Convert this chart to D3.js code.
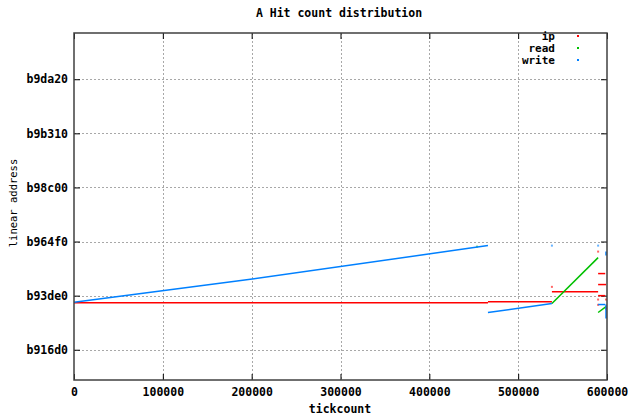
<!DOCTYPE html>
<html>
<head>
<meta charset="utf-8">
<script src="https://cdn.jsdelivr.net/npm/d3@7"></script>
<style>
  body { margin: 0; background: #fff; }
  text { font-family: "DejaVu Sans Mono", monospace; font-weight: bold; font-size: 11.5px; fill: #000; }
</style>
</head>
<body>
<div id="chart"></div>
<script>
const title = "A Hit count distribution";
const xLabel = "tickcount";
const yLabel = "linear address";

const xTicks = [0, 100000, 200000, 300000, 400000, 500000, 600000];
const yTicks = [0xb916d0, 0xb93de0, 0xb964f0, 0xb98c00, 0xb9b310, 0xb9da20];
const xDomain = [0, 600000];
const yDomain = [12124408, 12188546];

const seriesNames = ["ip", "read", "write"];
const seriesColors = ["#ff0000", "#00c000", "#0080ff"];

// runs of consecutive hits: [tickcount, address]
const ipRuns = [
    [[0, 12138671], [466000, 12138671]],
    [[466000, 12138856], [538000, 12138856]],
    [[538000, 12140701], [590000, 12140701]],
    [[590000, 12144079], [598000, 12144079]],
    [[590000, 12142049], [599000, 12142049]],
    [[590000, 12140000], [598000, 12140000]]
];
const ipDots = [
    [538000, 12141624], [590000, 12148140], [590000, 12139280],
    [598900, 12139280], [590000, 12138300], [598900, 12137600]
];

const readRuns = [
    [[538000, 12138542], [590000, 12147032]],
    [[590000, 12136881], [598900, 12137988]]
];
const readDots = [[453700, 12149060]];

const writeRuns = [
    [[0, 12138782], [190000, 12142842], [466000, 12149247]],
    [[466000, 12136881], [538000, 12138542]],
    [[590000, 12138357], [598000, 12138357]],
    [[598900, 12138357], [598900, 12135773]],
    [[598900, 12148140], [598900, 12147400]]
];
const writeDots = [[538000, 12149247], [590000, 12149247]];

const width = 628, height = 416;
const margin = {top: 33, right: 21, bottom: 36, left: 74};

const svg = d3.select("#chart").append("svg")
    .attr("width", width).attr("height", height);

const x = d3.scaleLinear().domain(xDomain).range([margin.left, width - margin.right]);
const y = d3.scaleLinear().domain(yDomain).range([height - margin.bottom, margin.top]);

// grid
const grid = svg.append("g")
    .attr("stroke", "#a8a8a8").attr("stroke-width", 1).attr("stroke-dasharray", "2,2");
grid.selectAll(".gx").data(xTicks.slice(1, -1)).enter().append("line")
    .attr("x1", d => Math.round(x(d)) + 0.5).attr("x2", d => Math.round(x(d)) + 0.5)
    .attr("y1", margin.top).attr("y2", height - margin.bottom);
grid.selectAll(".gy").data(yTicks).enter().append("line")
    .attr("y1", d => Math.round(y(d)) + 0.5).attr("y2", d => Math.round(y(d)) + 0.5)
    .attr("x1", margin.left).attr("x2", width - margin.right);

// axes (ticks inward, mirrored)
const fmtHex = d => d.toString(16);
svg.append("g")
    .attr("transform", `translate(0,${height - margin.bottom})`)
    .call(d3.axisBottom(x).tickValues(xTicks).tickSize(-6).tickPadding(8).tickFormat(d3.format("d")))
    .call(g => g.select(".domain").remove());
svg.append("g")
    .attr("transform", `translate(0,${margin.top})`)
    .call(d3.axisTop(x).tickValues(xTicks).tickSize(-6).tickFormat(""))
    .call(g => g.select(".domain").remove());
svg.append("g")
    .attr("transform", `translate(${margin.left},0)`)
    .call(d3.axisLeft(y).tickValues(yTicks).tickSize(-6).tickPadding(6).tickFormat(fmtHex))
    .call(g => g.select(".domain").remove());
svg.append("g")
    .attr("transform", `translate(${width - margin.right},0)`)
    .call(d3.axisRight(y).tickValues(yTicks).tickSize(-6).tickFormat(""))
    .call(g => g.select(".domain").remove());

svg.selectAll(".tick line").attr("stroke", "#000");
svg.selectAll(".tick text")
    .style("font-family", "'DejaVu Sans Mono', monospace")
    .style("font-weight", "bold").style("font-size", "11.5px");

// series
const line = d3.line().x(d => x(d[0])).y(d => y(d[1]));
const series = [
    {runs: ipRuns, dots: ipDots},
    {runs: readRuns, dots: readDots},
    {runs: writeRuns, dots: writeDots}
];
series.forEach((s, i) => {
    const g = svg.append("g");
    g.selectAll("path").data(s.runs).enter().append("path")
        .attr("d", line)
        .attr("fill", "none")
        .attr("stroke", seriesColors[i])
        .attr("stroke-width", 1.5);
    g.selectAll("rect").data(s.dots).enter().append("rect")
        .attr("x", d => x(d[0]) - 1).attr("y", d => y(d[1]) - 1)
        .attr("width", 2).attr("height", 2)
        .attr("fill", seriesColors[i]).attr("opacity", 0.6);
});

// frame
svg.append("rect")
    .attr("x", margin.left).attr("y", margin.top)
    .attr("width", width - margin.left - margin.right)
    .attr("height", height - margin.top - margin.bottom)
    .attr("fill", "none").attr("stroke", "#404040").attr("stroke-width", 1.5);

// legend
const legend = svg.append("g");
seriesNames.forEach((name, i) => {
    legend.append("text")
        .attr("x", 555).attr("y", 40 + i * 12)
        .attr("text-anchor", "end")
        .style("font-size", "11px")
        .text(name);
    legend.append("rect")
        .attr("x", 577).attr("y", 35 + i * 12)
        .attr("width", 2).attr("height", 2)
        .attr("fill", seriesColors[i]);
});

// titles
svg.append("text").attr("x", 339).attr("y", 17).attr("text-anchor", "middle").text(title);
svg.append("text").attr("x", 340).attr("y", 413).attr("text-anchor", "middle").text(xLabel);
svg.append("text")
    .attr("transform", "translate(17,203) rotate(-90)")
    .attr("text-anchor", "middle")
    .style("font-weight", "normal")
    .style("font-size", "10.5px")
    .text(yLabel);
</script>
</body>
</html>
